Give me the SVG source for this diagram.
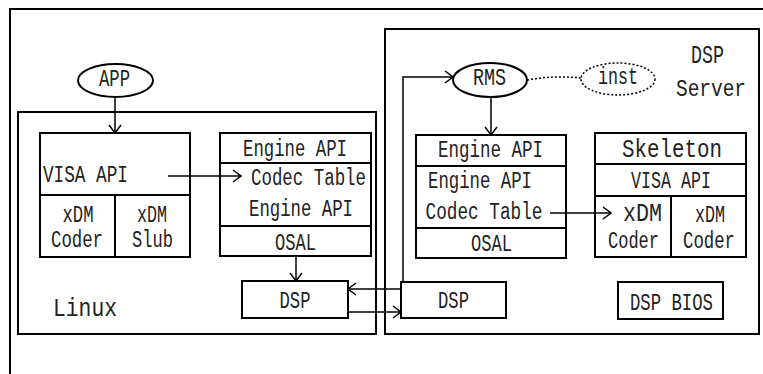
<svg xmlns="http://www.w3.org/2000/svg" width="763" height="374" viewBox="0 0 763 374">
<style>
.b{fill:#fff;stroke:#000;stroke-width:2}
.f{fill:none;stroke:#000;stroke-width:2}
.c{fill:none;stroke:#000;stroke-width:1.5}
.d{fill:none;stroke:#000;stroke-width:1.5;stroke-dasharray:2 2}
text{font-family:"Liberation Mono","DejaVu Sans Mono",monospace;font-size:23px;fill:#222;text-anchor:middle}
.l{font-size:26px}
.s{font-size:24px}
</style>
<defs>
<marker id="a" viewBox="0 0 10 14" refX="9" refY="7" markerWidth="10" markerHeight="14" markerUnits="userSpaceOnUse" orient="auto">
<path d="M1,1 L9,7 L1,13" fill="none" stroke="#000" stroke-width="1.5"/>
</marker>
</defs>
<rect width="763" height="374" fill="#fff"/>
<g id="frame"><rect x="10" y="9" width="800" height="400" class="f"/></g>
<g id="linux">
<rect x="18" y="112" width="358" height="222" class="f"/>
<text x="53" y="316" class="l" style="text-anchor:start" textLength="64" lengthAdjust="spacingAndGlyphs">Linux</text>
</g>
<g id="dspserver">
<rect x="385" y="29" width="374" height="305" class="f"/>
<text x="707.5" y="63" class="l" textLength="33" lengthAdjust="spacingAndGlyphs">DSP</text>
<text x="711" y="96" class="s" textLength="70" lengthAdjust="spacingAndGlyphs">Server</text>
</g>
<g id="app">
<ellipse cx="115.5" cy="80.5" rx="37.5" ry="16.5" class="b"/>
<text x="114.5" y="86" textLength="31" lengthAdjust="spacingAndGlyphs">APP</text>
</g>
<g id="visa-linux">
<rect x="40" y="133" width="150" height="124" class="b"/>
<line x1="40" y1="195" x2="190" y2="195" class="f"/>
<line x1="115" y1="195" x2="115" y2="257" class="f"/>
<text x="85.5" y="182" textLength="85" lengthAdjust="spacingAndGlyphs">VISA API</text>
<text x="78" y="222" textLength="31" lengthAdjust="spacingAndGlyphs">xDM</text>
<text x="77" y="247" textLength="52" lengthAdjust="spacingAndGlyphs">Coder</text>
<text x="152" y="222" textLength="30" lengthAdjust="spacingAndGlyphs">xDM</text>
<text x="152.5" y="247" textLength="41" lengthAdjust="spacingAndGlyphs">Slub</text>
</g>
<g id="engine-linux">
<rect x="220" y="133" width="151" height="123" class="b"/>
<line x1="220" y1="163" x2="371" y2="163" class="f"/>
<line x1="220" y1="226" x2="371" y2="226" class="f"/>
<text x="295" y="156" textLength="104" lengthAdjust="spacingAndGlyphs">Engine API</text>
<text x="308.5" y="185" textLength="115" lengthAdjust="spacingAndGlyphs">Codec Table</text>
<text x="301" y="216" textLength="104" lengthAdjust="spacingAndGlyphs">Engine API</text>
<text x="295.5" y="250" textLength="41" lengthAdjust="spacingAndGlyphs">OSAL</text>
</g>
<g id="dsp-linux">
<rect x="242" y="281" width="106" height="37" class="b"/>
<text x="295" y="308" textLength="31" lengthAdjust="spacingAndGlyphs">DSP</text>
</g>
<g id="rms">
<ellipse cx="490" cy="80" rx="37" ry="17" class="b"/>
<text x="489.5" y="85" textLength="33" lengthAdjust="spacingAndGlyphs">RMS</text>
</g>
<g id="inst">
<ellipse cx="618" cy="79" rx="37" ry="16" class="d" fill="#fff"/>
<text x="618" y="84" textLength="40" lengthAdjust="spacingAndGlyphs">inst</text>
</g>
<g id="engine-server">
<rect x="416" y="135" width="150" height="123" class="b"/>
<line x1="416" y1="166" x2="566" y2="166" class="f"/>
<line x1="416" y1="228" x2="566" y2="228" class="f"/>
<text x="490.5" y="157" textLength="105" lengthAdjust="spacingAndGlyphs">Engine API</text>
<text x="480" y="188" textLength="104" lengthAdjust="spacingAndGlyphs">Engine API</text>
<text x="484" y="219" textLength="117" lengthAdjust="spacingAndGlyphs">Codec Table</text>
<text x="491.5" y="251" textLength="41" lengthAdjust="spacingAndGlyphs">OSAL</text>
</g>
<g id="skeleton">
<rect x="595" y="133" width="151" height="124" class="b"/>
<line x1="595" y1="164" x2="746" y2="164" class="f"/>
<line x1="595" y1="196" x2="746" y2="196" class="f"/>
<line x1="671" y1="196" x2="671" y2="257" class="f"/>
<text x="672" y="157" class="l" textLength="100" lengthAdjust="spacingAndGlyphs">Skeleton</text>
<text x="671" y="188" textLength="80" lengthAdjust="spacingAndGlyphs">VISA API</text>
<text x="642.5" y="221" class="l" textLength="39" lengthAdjust="spacingAndGlyphs">xDM</text>
<text x="633.5" y="248" textLength="51" lengthAdjust="spacingAndGlyphs">Coder</text>
<text x="710" y="222" textLength="30" lengthAdjust="spacingAndGlyphs">xDM</text>
<text x="709" y="248" textLength="52" lengthAdjust="spacingAndGlyphs">Coder</text>
</g>
<g id="dsp-server">
<rect x="401" y="282" width="105" height="36" class="b"/>
<text x="453.5" y="308" textLength="31" lengthAdjust="spacingAndGlyphs">DSP</text>
</g>
<g id="dspbios">
<rect x="618" y="282" width="105" height="37" class="b"/>
<text x="671.5" y="310" textLength="83" lengthAdjust="spacingAndGlyphs">DSP BIOS</text>
</g>
<g id="connectors">
<line x1="115" y1="97" x2="115" y2="133" class="c" marker-end="url(#a)"/>
<line x1="168" y1="176" x2="241" y2="176" class="c" marker-end="url(#a)"/>
<line x1="296" y1="256" x2="296" y2="281" class="c" marker-end="url(#a)"/>
<line x1="401" y1="289" x2="348" y2="289" class="c" marker-end="url(#a)"/>
<line x1="348" y1="312" x2="401" y2="312" class="c" marker-end="url(#a)"/>
<polyline points="403,282 403,77 453,77" class="c" marker-end="url(#a)"/>
<line x1="491" y1="97" x2="491" y2="135" class="c" marker-end="url(#a)"/>
<line x1="550" y1="213" x2="611" y2="213" class="c" marker-end="url(#a)"/>
<path d="M527,80 Q555,75 581,78" class="d"/>
</g>
</svg>
